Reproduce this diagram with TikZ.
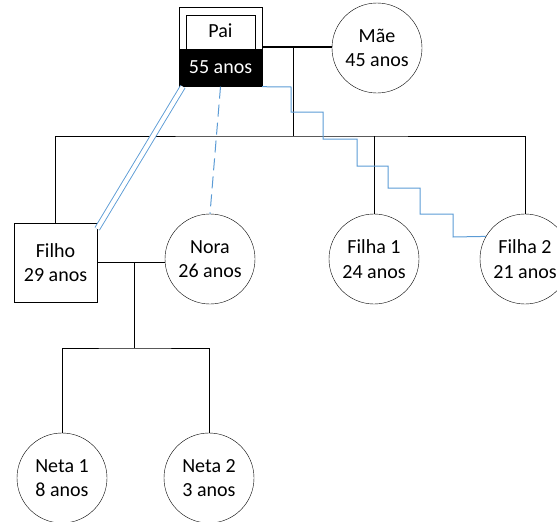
\documentclass[tikz,border=0pt]{standalone}
\usepackage{fontspec}
\setmainfont{Carlito}
\usetikzlibrary{positioning}
\definecolor{relblue}{RGB}{91,155,213}

\begin{document}
\begin{tikzpicture}[x=1pt,y=-1pt,font=\fontsize{20}{24.5}\selectfont,
    every node/.style={align=center},
    pessoa/.style={draw,circle,minimum size=90pt,inner sep=0pt},
    homem/.style={draw,minimum width=83pt,minimum height=79pt,inner sep=0pt},
    laco/.style={line width=0.8pt},
    uniao/.style={line width=1.8pt},
    proximo/.style={draw=relblue,double=white,double distance=4.2pt,line width=0.9pt},
    distante/.style={relblue,line width=1pt,dash pattern=on 12pt off 6pt},
    conflito/.style={relblue,line width=1pt}]
    \useasboundingbox (0,0) rectangle (557,522);
    % pai (caso indice)
    \node[homem] (pai) at (220.5,47) {};
    \node[draw,minimum width=69pt,minimum height=34pt,inner sep=0pt,text depth=2pt] (painome) at (220.5,32) {Pai};
    \node[fill=black,text=white,minimum width=83pt,minimum height=38pt,inner sep=0pt,anchor=south] (paiidade) at (pai.south) {55 anos};
    \node[pessoa] (mae) at (377,48) {Mãe\\45 anos};
    % filhos
    \node[homem] (filho) at (55.5,262.5) {Filho\\29 anos};
    \node[pessoa] (nora) at (210,259) {Nora\\26 anos};
    \node[pessoa] (filha1) at (374,259) {Filha 1\\24 anos};
    \node[pessoa] (filha2) at (525,259) {Filha 2\\21 anos};
    % netas
    \node[pessoa] (neta1) at (62,478) {Neta 1\\8 anos};
    \node[pessoa] (neta2) at (209,478) {Neta 2\\3 anos};
    % casamentos e descendencia
    \coordinate (casal1) at (293,47);
    \coordinate (irmaos) at (293,136);
    \coordinate (casal2) at (134,262.5);
    \coordinate (netos) at (134,348);
    \draw[uniao] (pai.east) -- (pai.east -| mae.west);
    \draw[laco] (casal1) -- (irmaos);
    \draw[laco] (filho.north) |- (irmaos) -| (filha2.north);
    \draw[laco] (filha1.north) -- (filha1.north |- irmaos);
    \draw[laco] (filho.east) -- (filho.east -| nora.west);
    \draw[laco] (casal2) -- (netos);
    \draw[laco] (neta1.north) |- (netos) -| (neta2.north);
    % relacoes
    \draw[proximo] ([xshift=4pt]pai.south west) -- ([yshift=-6pt]filho.north east);
    \draw[distante] (pai.south) -- (nora.north);
    \draw[conflito] (pai.south east) -- (291,87) -- (291,112) -- (323,112) -- (323,139)
      -- (357,139) -- (357,166) -- (388,166) -- (388,188) -- (420,188) -- (420,214)
      -- (453,214) -- (453,237) -- (filha2.150);
\end{tikzpicture}
\end{document}
